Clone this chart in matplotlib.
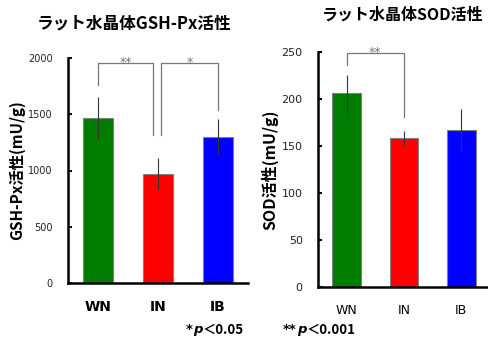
import numpy as np
import matplotlib
matplotlib.use("Agg")
import matplotlib.pyplot as plt

plt.rcParams['font.family'] = ['Noto Sans CJK JP', 'DejaVu Sans']

groups = ["WN", "IN", "IB"]
colors = ["#007c00", "#ff0000", "#0000ff"]

gsh_mean = [1470, 970, 1300]
gsh_err = [180, 140, 155]

sod_mean = [206, 158, 167]
sod_err = [20, 8, 22]

fig = plt.figure(figsize=(4.88, 3.38), dpi=100)
ax1 = fig.add_axes([68 / 488, 55 / 338, 180 / 488, 225 / 338])
ax2 = fig.add_axes([318 / 488, 51 / 338, 172 / 488, 235 / 338])

x = np.arange(len(groups))


def style_axes(ax, ymax, step, tick_size, xlab_weight, xlab_size):
    ax.set_xlim(-0.5, 2.5)
    ax.set_ylim(0, ymax)
    ax.set_yticks(np.arange(0, ymax + 1, step))
    for s in ["top", "right"]:
        ax.spines[s].set_visible(False)
    for s in ["left", "bottom"]:
        ax.spines[s].set_linewidth(1.8)
    ax.tick_params(axis="y", direction="in", length=3, width=1.5,
                   labelsize=tick_size, pad=11, labelcolor="#222222")
    ax.tick_params(axis="x", length=0, pad=12)
    for lab in ax.get_yticklabels():
        lab.set_family("DejaVu Sans")
    ax.set_xticks(x)
    ax.set_xticklabels(groups, fontsize=xlab_size, fontweight=xlab_weight,
                       family="DejaVu Sans")


def bracket(ax, x0, x1, y_top, y0, y1, label):
    ax.plot([x0, x0, x1, x1], [y0, y_top, y_top, y1], color="#777777",
            lw=0.9, clip_on=False)
    ax.text((x0 + x1) / 2, y_top, label, ha="center", va="center",
            fontsize=9, color="#777777", family="DejaVu Sans")


# GSH-Px
ax1.bar(x, gsh_mean, width=0.5, color=colors, edgecolor="#808080", lw=0.8)
ax1.errorbar(x, gsh_mean, yerr=gsh_err, fmt="none", ecolor="#333333",
             elinewidth=0.8, capsize=0)
style_axes(ax1, 2000, 500, 7, "bold", 10)
bracket(ax1, 0, 0.92, 1960, 1760, 1315, "**")
bracket(ax1, 1.05, 2, 1960, 1315, 1540, "*")
fig.text(134 / 488, 1 - 23 / 338, "ラット水晶体GSH-Px活性", fontsize=12,
         fontweight="bold", ha="center", va="center")
ax1.set_ylabel("GSH-Px活性(mU/g)", fontsize=11, fontweight="bold", labelpad=2)

# SOD
ax2.bar(x, sod_mean, width=0.5, color=colors, edgecolor="#808080", lw=0.8)
ax2.errorbar(x, sod_mean, yerr=sod_err, fmt="none", ecolor="#333333",
             elinewidth=0.8, capsize=0)
style_axes(ax2, 250, 50, 8, "normal", 9)
bracket(ax2, 0, 1, 249, 236, 181, "**")
fig.text(403 / 488, 1 - 15 / 338, "ラット水晶体SOD活性", fontsize=11.5,
         fontweight="bold", ha="center", va="center")
ax2.set_ylabel("SOD活性(mU/g)", fontsize=11.5, fontweight="bold", labelpad=2)


# significance footnote: stars, italic p, then the threshold
def footnote(xpix, parts):
    fig.canvas.draw()
    r = fig.canvas.get_renderer()
    cur = xpix
    for s, kw in parts:
        t = fig.text(cur / 488, 1 - 330 / 338, s, fontsize=9.5,
                     fontweight="bold", va="center", **kw)
        cur = t.get_window_extent(r).x1


footnote(186, [("*", {"family": "DejaVu Sans"}),
               ("p", {"family": "DejaVu Sans", "style": "italic"}),
               ("＜0.05", {})])
footnote(283, [("**", {"family": "DejaVu Sans"}),
               ("p", {"family": "DejaVu Sans", "style": "italic"}),
               ("＜0.001", {})])

fig.savefig("out.png", dpi=100)
